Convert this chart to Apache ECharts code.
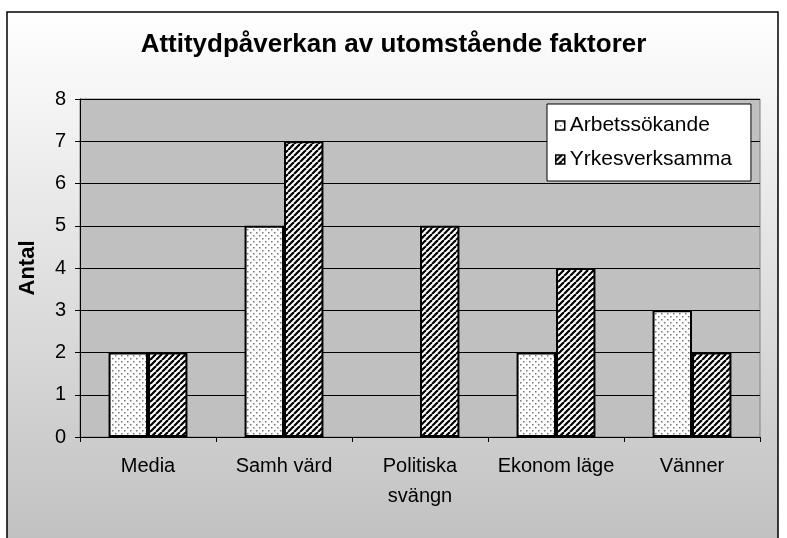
<!DOCTYPE html>
<html>
<head>
<meta charset="utf-8">
<script src="https://cdn.jsdelivr.net/npm/echarts@6/dist/echarts.min.js"></script>
<style>
  html, body { margin: 0; padding: 0; background: #fff; }
  #chart { width: 787px; height: 538px; }
</style>
</head>
<body>
<div id="chart"></div>
<script>
const categories = ['Media', 'Samh värd', 'Politiska\nsvängn', 'Ekonom läge', 'Vänner'];
const seriesNames = ['Arbetssökande', 'Yrkesverksamma'];
const arbetssokande = [2, 5, 0, 2, 3];
const yrkesverksamma = [2, 7, 5, 4, 2];
const font = '"Liberation Sans", Arial, sans-serif';

// fill patterns: dotted and diagonal hatch
function dotPattern() {
  const c = document.createElement('canvas');
  c.width = 6; c.height = 6;
  const g = c.getContext('2d');
  g.fillStyle = '#fff';
  g.fillRect(0, 0, 6, 6);
  g.fillStyle = '#777';
  g.fillRect(1, 1, 1.5, 1.5);
  g.fillRect(4, 4, 1.5, 1.5);
  return c;
}
function hatchPattern() {
  const c = document.createElement('canvas');
  c.width = 6; c.height = 6;
  const g = c.getContext('2d');
  g.fillStyle = '#fff';
  g.fillRect(0, 0, 6, 6);
  g.strokeStyle = '#000';
  g.lineWidth = 2.2;
  for (const o of [-6, 0, 6]) {
    g.beginPath();
    g.moveTo(o, 6);
    g.lineTo(o + 6, 0);
    g.stroke();
  }
  return c;
}

// zero-height bars get no outline
const barData = vals => vals.map(v => v === 0 ? { value: v, itemStyle: { borderWidth: 0 } } : v);

const chart = echarts.init(document.getElementById('chart'), null, { renderer: 'canvas' });
chart.setOption({
  backgroundColor: '#fff',
  animation: false,
  graphic: [{
    type: 'rect',
    z: -10,
    silent: true,
    shape: { x: 7, y: 12, width: 771, height: 545 },
    style: {
      fill: new echarts.graphic.LinearGradient(0, 0, 0, 1, [
        { offset: 0, color: '#ffffff' },
        { offset: 1, color: '#bfbfbf' }
      ]),
      stroke: '#000',
      lineWidth: 1.5
    }
  }],
  title: {
    text: 'Attitydpåverkan av utomstående faktorer',
    left: 'center',
    top: 27,
    textStyle: { fontFamily: font, fontSize: 26, fontWeight: 'bold', color: '#000' }
  },
  legend: {
    orient: 'vertical',
    left: 547,
    top: 104,
    padding: [11, 19, 11, 8],
    itemGap: 13,
    itemWidth: 9,
    itemHeight: 9,
    backgroundColor: '#fff',
    borderColor: '#000',
    borderWidth: 1,
    borderRadius: 0,
    icon: 'rect',
    itemStyle: { borderColor: '#000', borderWidth: 1.5 },
    textStyle: { fontFamily: font, fontSize: 21, color: '#000' },
    data: seriesNames
  },
  grid: {
    left: 80, right: 27, top: 99, bottom: 101,
    show: true,
    backgroundColor: '#c0c0c0',
    borderColor: '#808080',
    borderWidth: 1
  },
  xAxis: {
    type: 'category',
    data: categories,
    axisLine: { lineStyle: { color: '#000', width: 1 } },
    axisTick: { show: true, length: 5, lineStyle: { color: '#000' } },
    axisLabel: {
      fontFamily: font, fontSize: 20, color: '#000',
      margin: 14, lineHeight: 30, verticalAlign: 'top', interval: 0
    }
  },
  yAxis: {
    type: 'value',
    min: 0, max: 8, interval: 1,
    name: 'Antal',
    nameLocation: 'middle',
    nameGap: 41,
    nameRotate: 90,
    nameTextStyle: { fontFamily: font, fontSize: 22, fontWeight: 'bold', color: '#000' },
    axisLine: { show: true, lineStyle: { color: '#000', width: 1 } },
    axisTick: { show: true, length: 5, lineStyle: { color: '#000' } },
    axisLabel: { fontFamily: font, fontSize: 20, color: '#000', margin: 14 },
    splitLine: { show: true, lineStyle: { color: '#000', width: 1 } }
  },
  series: [
    {
      name: seriesNames[0],
      type: 'bar',
      data: barData(arbetssokande),
      barGap: '0%',
      barCategoryGap: '42%',
      itemStyle: {
        color: { image: dotPattern(), repeat: 'repeat' },
        borderColor: '#000',
        borderWidth: 2
      }
    },
    {
      name: seriesNames[1],
      type: 'bar',
      data: barData(yrkesverksamma),
      barGap: '0%',
      barCategoryGap: '42%',
      itemStyle: {
        color: { image: hatchPattern(), repeat: 'repeat' },
        borderColor: '#000',
        borderWidth: 2
      }
    }
  ]
});
</script>
</body>
</html>
